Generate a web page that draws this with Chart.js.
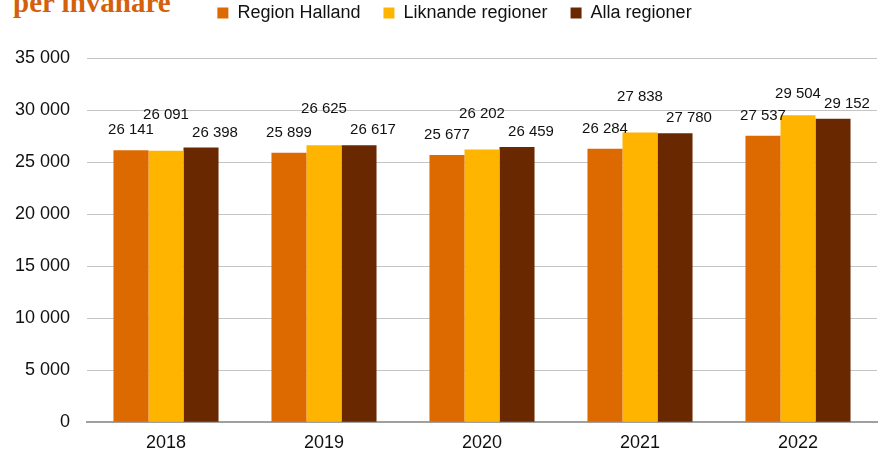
<!DOCTYPE html>
<html>
<head>
<meta charset="utf-8">
<script src="https://cdn.jsdelivr.net/npm/chart.js@4.4.0/dist/chart.umd.min.js"></script>
<style>
    html, body { margin: 0; padding: 0; background: #fff; overflow: hidden; }
    .wrap { position: relative; width: 883px; height: 450px; }
    .title {
        position: absolute;
        left: 13px;
        top: -12px;
        font-family: "Liberation Serif", serif;
        font-weight: bold;
        font-size: 29px;
        line-height: 29px;
        color: #d4600c;
        white-space: nowrap;
    }
    canvas { position: absolute; left: 0; top: 0; }
</style>
</head>
<body>
<div class="wrap">
    <div class="title">per invånare</div>
    <canvas id="costChart" width="883" height="450"></canvas>
</div>
<script>
// data
const years = ['2018', '2019', '2020', '2021', '2022'];
const seriesNames = ['Region Halland', 'Liknande regioner', 'Alla regioner'];
const regionHalland = [26141, 25899, 25677, 26284, 27537];
const liknandeRegioner = [26091, 26625, 26202, 27838, 29504];
const allaRegioner = [26398, 26617, 26459, 27780, 29152];
const yTicks = [0, 5000, 10000, 15000, 20000, 25000, 30000, 35000];

const colors = ['#dc6a00', '#ffb400', '#6a2800'];
const fontFamily = '"Liberation Sans", Arial, sans-serif';

// "26141" -> "26 141"
function fmt(v) {
    return String(v).replace(/\B(?=(\d{3})+(?!\d))/g, ' ');
}

// värdeetiketter ovanför staplarna (mittserien förskjuten uppåt, men inte för nära toppen)
const labelOffsets = { dx: [0, 0, 14], dy: [20, 36, 15], minTop: 36 };
const barLabels = {
    id: 'barLabels',
    afterDatasetsDraw(chart) {
        const ctx = chart.ctx;
        const top = chart.chartArea.top + labelOffsets.minTop;
        ctx.save();
        ctx.font = '15px ' + fontFamily;
        ctx.fillStyle = '#111';
        ctx.textAlign = 'center';
        ctx.textBaseline = 'middle';
        chart.data.datasets.forEach((ds, i) => {
            const meta = chart.getDatasetMeta(i);
            meta.data.forEach((bar, j) => {
                let y = bar.y - labelOffsets.dy[i];
                if (i === 1) y = Math.max(y, top);
                ctx.fillText(fmt(ds.data[j]), bar.x + labelOffsets.dx[i], y);
            });
        });
        ctx.restore();
    }
};

// legenden: extra luft under och lite förskjuten åt höger
const legendTweak = {
    id: 'legendTweak',
    beforeInit(chart) {
        const fit = chart.legend.fit;
        chart.legend.fit = function() {
            fit.bind(chart.legend)();
            this.height += 26;
        };
    },
    afterLayout(chart) {
        chart.legend.left += 16;
        chart.legend.right += 16;
    }
};

const ctx = document.getElementById('costChart');
new Chart(ctx, {
    type: 'bar',
    data: {
        labels: years,
        datasets: [regionHalland, liknandeRegioner, allaRegioner].map((d, i) => ({
            label: seriesNames[i],
            data: d,
            backgroundColor: colors[i],
            borderWidth: 0,
            categoryPercentage: 0.665,
            barPercentage: 1
        }))
    },
    options: {
        responsive: false,
        animation: false,
        layout: {
            padding: { left: 0, right: 6, top: -19, bottom: -15 }
        },
        plugins: {
            legend: {
                position: 'top',
                labels: {
                    boxWidth: 11,
                    boxHeight: 11,
                    padding: 23,
                    color: '#111',
                    font: { family: fontFamily, size: 18 }
                }
            },
            tooltip: { enabled: false }
        },
        scales: {
            x: {
                grid: { display: false, drawTicks: false },
                border: { display: true, color: '#a0a0a0', width: 2 },
                ticks: {
                    padding: 12,
                    color: '#111',
                    font: { family: fontFamily, size: 18, lineHeight: 1 }
                }
            },
            y: {
                min: 0,
                max: 35000,
                afterBuildTicks(scale) {
                    scale.ticks = yTicks.map(v => ({ value: v }));
                },
                afterFit(scale) {
                    scale.width = 87;
                },
                grid: { color: '#c4c4c4', lineWidth: 1, drawTicks: false },
                border: { display: false },
                ticks: {
                    padding: 17,
                    color: '#111',
                    font: { family: fontFamily, size: 18 },
                    callback: v => fmt(v)
                }
            }
        }
    },
    plugins: [barLabels, legendTweak]
});
</script>
</body>
</html>
